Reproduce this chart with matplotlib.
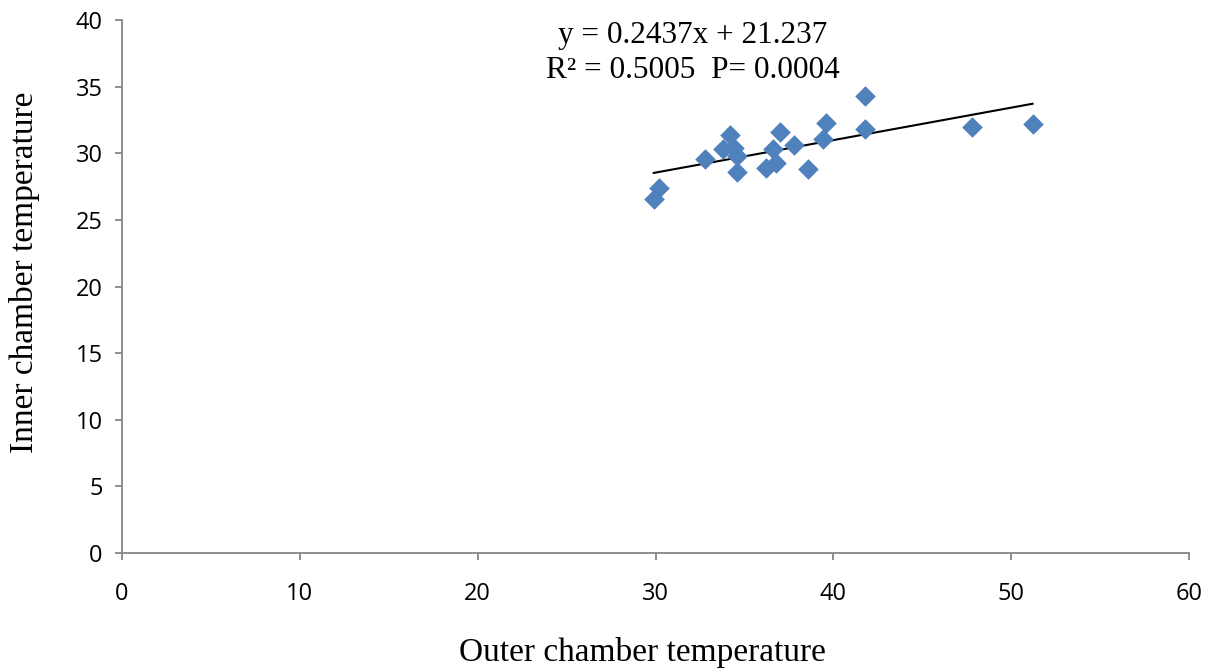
import numpy as np
import matplotlib.pyplot as plt

# outer / inner chamber temperatures
outer_temp = [29.9, 30.2, 32.8, 33.8, 34.2, 34.4, 34.6, 34.6, 36.2, 36.6,
              36.8, 37.0, 37.8, 38.6, 39.4, 39.6, 41.8, 41.8, 47.8, 51.2]
inner_temp = [26.6, 27.4, 29.6, 30.3, 31.4, 30.4, 29.8, 28.6, 28.9, 30.3,
              29.3, 31.6, 30.6, 28.8, 31.1, 32.3, 34.3, 31.8, 32.0, 32.2]

# trendline as printed on the chart
slope = 0.2437
intercept = 21.237
x_ticks = [0, 10, 20, 30, 40, 50, 60]
y_ticks = [0, 5, 10, 15, 20, 25, 30, 35, 40]

fig = plt.figure(figsize=(12.17, 6.72), dpi=100)
ax = fig.add_axes([122 / 1217, 1 - 553 / 672, (1189 - 122) / 1217, (553 - 20) / 672])

ax.scatter(outer_temp, inner_temp, marker="D", s=110, color="#4F81BD", zorder=3, linewidths=0)

xs = np.array([min(outer_temp), max(outer_temp)])
ax.plot(xs, slope * xs + intercept, color="black", linewidth=1.5, zorder=2)

ax.set_xlim(0, 60)
ax.set_ylim(0, 40)
ax.set_xticks(x_ticks)
ax.set_yticks(y_ticks)

for side in ["top", "right"]:
    ax.spines[side].set_visible(False)
for side in ["left", "bottom"]:
    ax.spines[side].set_color("#868686")
    ax.spines[side].set_linewidth(1.3)
ax.tick_params(axis="both", direction="out", length=5, width=1.3, color="#868686",
               labelsize=17, labelcolor="black")
ax.tick_params(axis="x", pad=16)
ax.tick_params(axis="y", pad=9)
for lab in ax.get_xticklabels() + ax.get_yticklabels():
    lab.set_family("Open Sans")

serif = "Liberation Serif"
fig.text(0.5 * (455 + 830) / 1217, 1 - 652 / 672, "Outer chamber temperature",
         family=serif, fontsize=24, ha="center", va="center")
fig.text(25 / 1217, 1 - 272 / 672, "Inner chamber temperature",
         family=serif, fontsize=24, ha="center", va="center", rotation=90)
fig.text(693 / 1217, 1 - 35 / 672, "y = 0.2437x + 21.237",
         family=serif, fontsize=22.5, ha="center", va="center")
fig.text(693 / 1217, 1 - 70 / 672, "R² = 0.5005  P= 0.0004",
         family=serif, fontsize=22.5, ha="center", va="center")

fig.savefig("out.png", dpi=100)
